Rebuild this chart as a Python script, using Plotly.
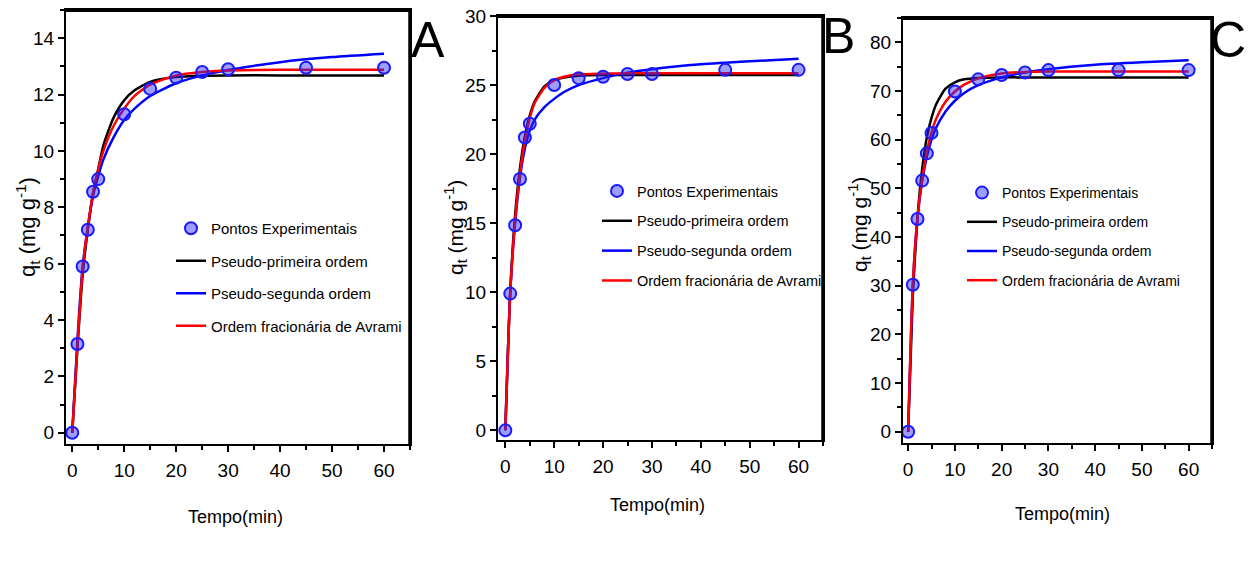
import plotly.graph_objects as go

# ---------------- data ----------------
t_exp = [0, 1, 2, 3, 4, 5, 10, 15, 20, 25, 30, 45, 60]
qA_exp = [0.0, 3.15, 5.9, 7.2, 8.55, 9.0, 11.3, 12.2, 12.6, 12.8, 12.9, 12.95, 12.95]
qB_exp = [0.0, 9.9, 14.85, 18.2, 21.2, 22.2, 25.0, 25.5, 25.6, 25.8, 25.8, 26.1, 26.1]
qC_exp = [0.0, 30.2, 43.7, 51.6, 57.2, 61.4, 69.9, 72.4, 73.3, 73.8, 74.3, 74.3, 74.3]

t_fit = [0, 1, 2, 3, 4, 5, 6, 8, 10, 12, 15, 20, 25, 30, 40, 50, 60]
# Panel A
A_pfo = [0, 3.0, 5.6, 7.2, 8.5, 9.35, 10.2, 11.2, 11.8, 12.15, 12.45, 12.62, 12.67, 12.68, 12.68, 12.68, 12.68]
A_pso = [0, 3.3, 5.9, 7.3, 8.4, 9.1, 9.7, 10.5, 11.1, 11.5, 11.95, 12.4, 12.68, 12.87, 13.15, 13.33, 13.45]
A_avr = [0, 3.1, 5.8, 7.3, 8.5, 9.35, 10.0, 10.9, 11.5, 11.95, 12.35, 12.68, 12.8, 12.85, 12.88, 12.88, 12.88]
# Panel B
B_pfo = [0, 10.0, 15.6, 19.0, 21.3, 22.8, 23.8, 24.9, 25.35, 25.55, 25.68, 25.72, 25.72, 25.72, 25.72, 25.72, 25.72]
B_pso = [0, 10.0, 15.0, 18.3, 20.4, 21.7, 22.5, 23.4, 24.0, 24.5, 25.0, 25.5, 25.9, 26.15, 26.5, 26.72, 26.9]
B_avr = [0, 9.9, 15.2, 18.6, 21.0, 22.6, 23.7, 24.8, 25.35, 25.6, 25.78, 25.83, 25.85, 25.85, 25.85, 25.85, 25.85]
# Panel C
C_pfo = [0, 28.0, 44.0, 54.0, 60.5, 64.5, 67.3, 70.5, 71.8, 72.4, 72.7, 72.8, 72.8, 72.8, 72.8, 72.8, 72.8]
C_pso = [0, 30.0, 44.0, 51.5, 56.5, 60.0, 62.5, 65.8, 68.0, 69.6, 71.2, 72.8, 73.8, 74.5, 75.4, 75.9, 76.3]
C_avr = [0, 30.3, 44.0, 52.0, 57.5, 61.5, 64.3, 67.8, 69.9, 71.3, 72.6, 73.6, 73.9, 74.0, 74.0, 74.0, 74.0]

x_ticks = [0, 10, 20, 30, 40, 50, 60]
panel_letters = ["A", "B", "C"]
names = ["Pontos Experimentais", "Pseudo-primeira ordem", "Pseudo-segunda ordem",
         "Ordem fracionária de Avrami"]

panels = [
    dict(exp=qA_exp, fits=[A_pfo, A_pso, A_avr], yr=[-0.4, 15.0], dtick=2, xr=[-1.2, 65]),
    dict(exp=qB_exp, fits=[B_pfo, B_pso, B_avr], yr=[-0.7, 30.0], dtick=5, xr=[-1.5, 65]),
    dict(exp=qC_exp, fits=[C_pfo, C_pso, C_avr], yr=[-2.3, 85.0], dtick=10, xr=[-1.1, 65]),
]

W, H = 1253, 573
# layout geometry (pixels)
boxes = [(66, 410, 10, 444), (498, 823, 16, 440), (903, 1212, 18, 443)]
legend_pos = [(171, 212), (597, 175), (962, 177)]
legend_gap = [10, 8, 8]
legend_font = [15, 14.5, 14]
xtitle_pos = [(235, 517), (657, 505), (1062, 514)]
ytitle_pos = [(27, 227), (455, 228), (859, 225)]
ytitle_size = [22, 21, 21]
letter_pos = [(428, 40), (839, 36), (1228, 40)]

FONT = "Liberation Sans Narrow, Arial Narrow, Liberation Sans, Arial"
REG = "Liberation Sans, Arial"
colors = ["black", "#0000ff", "#ff0000"]

fig = go.Figure()
for i, p in enumerate(panels):
    sx = "" if i == 0 else str(i + 1)
    xa, ya = "x" + sx, "y" + sx
    leg = "legend" + sx
    for j, (fit, c) in enumerate(zip(p["fits"], colors)):
        fig.add_trace(go.Scatter(
            x=t_fit, y=fit, mode="lines", name=names[j + 1],
            line=dict(color=c, width=2.5, shape="spline", smoothing=0.6),
            xaxis=xa, yaxis=ya, legend=leg, legendgroup=f"g{i}{j}",
            legendrank=j + 2))
    fig.add_trace(go.Scatter(
        x=t_exp, y=p["exp"], mode="markers", name=names[0],
        marker=dict(symbol="circle", size=12, color="rgba(40,40,255,0.45)",
                    line=dict(color="#1a1aff", width=2)),
        xaxis=xa, yaxis=ya, legend=leg, legendgroup=f"g{i}e", legendrank=1))

    x0, x1, y0, y1 = boxes[i]
    dom_x = [x0 / W, x1 / W]
    dom_y = [1 - y1 / H, 1 - y0 / H]
    axis_common = dict(showline=True, linecolor="black", linewidth=2, mirror=True,
                       ticks="outside", ticklen=6, tickwidth=2, tickcolor="black",
                       showgrid=False, zeroline=False, automargin=False,
                       tickfont=dict(family=FONT, size=19, color="black"))
    fig.layout["xaxis" + sx] = dict(
        domain=dom_x, range=p["xr"], anchor=ya, tickvals=x_ticks,
        ticklabelstandoff=2,
        minor=dict(ticks="outside", ticklen=4, tickwidth=2, tickcolor="black", dtick=5),
        **axis_common)
    fig.layout["yaxis" + sx] = dict(
        domain=dom_y, range=p["yr"], anchor=xa, dtick=p["dtick"], tick0=0,
        minor=dict(ticks="outside", ticklen=4, tickwidth=2, tickcolor="black",
                   dtick=p["dtick"] / 2),
        **axis_common)
    # thicker top and right frame
    fig.add_shape(type="line", xref=xa + " domain", yref=ya + " domain",
                  x0=0, x1=1, y0=1, y1=1, line=dict(color="black", width=4))
    fig.add_shape(type="line", xref=xa + " domain", yref=ya + " domain",
                  x0=1, x1=1, y0=0, y1=1, line=dict(color="black", width=3.5))

    lx, ly = legend_pos[i]
    fig.layout[leg] = dict(x=lx / W, y=1 - ly / H, xanchor="left", yanchor="top",
                           bgcolor="rgba(0,0,0,0)", borderwidth=0,
                           tracegroupgap=legend_gap[i],
                           font=dict(family=FONT, size=legend_font[i], color="black"),
                           itemwidth=30)

    tx, ty = xtitle_pos[i]
    fig.add_annotation(x=tx / W, y=1 - ty / H, xref="paper", yref="paper",
                       xanchor="center", yanchor="middle",
                       text="Tempo(min)", showarrow=False,
                       font=dict(family=FONT, size=18, color="black"))
    qx, qy = ytitle_pos[i]
    fig.add_annotation(x=qx / W, y=1 - qy / H, xref="paper", yref="paper",
                       xanchor="center", yanchor="middle",
                       text="q<sub>t</sub> (mg g<sup>-1</sup>)", showarrow=False,
                       textangle=-90, font=dict(family=REG, size=ytitle_size[i], color="black"))
    lx2, ly2 = letter_pos[i]
    fig.add_annotation(x=lx2 / W, y=1 - ly2 / H, xref="paper", yref="paper",
                       xanchor="center", yanchor="middle",
                       text=panel_letters[i], showarrow=False,
                       font=dict(family=REG, size=50, color="black"))

fig.update_layout(width=W, height=H, margin=dict(l=0, r=0, t=0, b=0, autoexpand=False),
                  paper_bgcolor="white", plot_bgcolor="white", showlegend=True)
fig.write_html("out.html")
